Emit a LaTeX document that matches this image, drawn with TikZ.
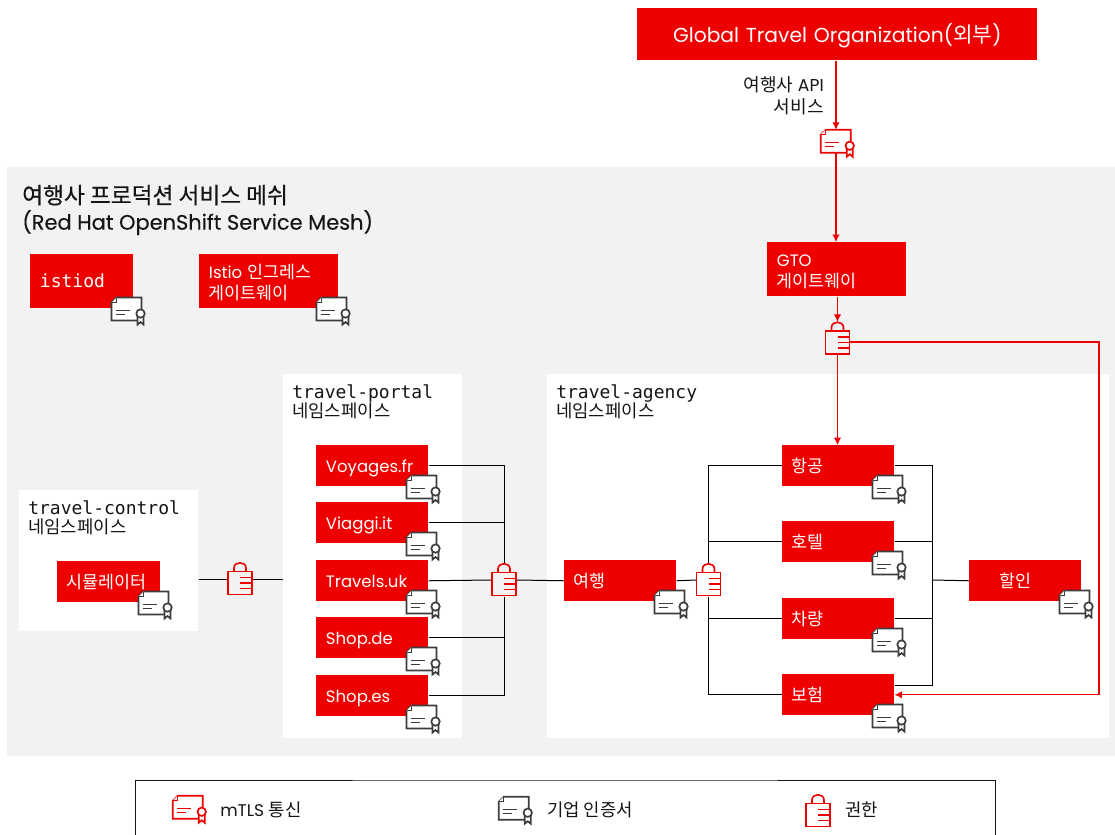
\documentclass[tikz,border=0pt]{standalone}
\usepackage{fontspec}
\setmainfont{Poppins}
\setmonofont[Scale=1.063]{DejaVu Sans Mono}
\newfontfamily\krfont[Scale=1.05]{Noto Sans CJK KR}
\newcommand{\kr}[1]{{\krfont #1}}
\usetikzlibrary{arrows.meta, positioning, calc}
\definecolor{red1}{RGB}{238, 0, 0}
\definecolor{panel1}{RGB}{242, 242, 242}
\definecolor{ink1}{RGB}{21, 21, 21}
\definecolor{icon1}{RGB}{60, 60, 60}
\tikzset{
  certicon/.pic={
    \path[pic actions, line width=1.25pt, fill=white] (5,0) -- (30,0) -- (30,23) -- (0,23) -- (0,5) -- cycle;
    \path[pic actions, line width=1pt, fill=white] (0,5) -- (5,5) -- (5,0);
    \path[pic actions, line width=1pt] (4,13) -- (18,13) (4,17) -- (13,17);
    \path[pic actions, line width=1.25pt, fill=white] (26,18) -- (26,27) -- (29,24.5) -- (32,27) -- (32,18);
    \path[pic actions, line width=1.25pt, fill=white] (29,16) circle[radius=4.2];
  },
  lockicon/.pic={
    \path[pic actions, line width=1.2pt] (-12,-7.5) rectangle (12,15.5);
    \path[pic actions, line width=1.2pt] (-6,-7.5) -- (-6,-11) .. controls (-6,-18) and (6,-18) .. (6,-11) -- (6,-7.5);
    \path[pic actions, line width=1.2pt] (0,-1.5) -- (12,-1.5) (0,4) -- (12,4) (0,9.5) -- (12,9.5);
  }
}
\begin{document}
\begin{tikzpicture}[
  x=0.75pt, y=-0.75pt,
  rbox/.style 2 args={fill=red1, text=white, anchor=north west, inner ysep=0pt, inner xsep=7.25pt, minimum height=#2*0.75pt, text width=#1*0.75pt-14.5pt, align=left, font=\fontsize{12.4}{15}\selectfont},
  oneline/.style={text height=10.5pt, text depth=1pt},
  twolines/.style={font=\fontsize{12.4}{15.5}\selectfont, text height=12.5pt},
  nsbox/.style 2 args={fill=white, anchor=north west, inner sep=0pt, minimum width=#1*0.75pt, minimum height=#2*0.75pt},
  nslabel/.style={anchor=north west, inner sep=0pt, align=left, text=ink1, font=\fontsize{12.7}{14.6}\selectfont},
  plain/.style={anchor=west, inner sep=0pt, align=left, text=ink1, font=\fontsize{12.7}{16}\selectfont},
  lockbox/.style={inner sep=0pt, minimum width=18pt, minimum height=24.75pt},
  certbox/.style={inner sep=0pt, minimum width=22.5pt, minimum height=17.25pt},
  wire/.style={draw=black, line width=0.75pt},
  redwire/.style={draw=red1, line width=0.8pt},
  redarrow/.style={redwire, -{Latex[length=5.5pt, width=5.5pt]}}
]
  \useasboundingbox (0,0) rectangle (1115,835);
  \fill[panel1] (7,167) rectangle (1115,756);

  % namespaces
  \node[nsbox={179}{141}] (controlNs) at (19,490) {};
  \node[nsbox={179}{364}] (portalNs) at (283,374) {};
  \node[nsbox={562}{364}] (agencyNs) at (547,374) {};
  \node[nslabel] (controlLabel) at (28,500) {\texttt{travel-control}\\\kr{네임스페이스}};
  \node[nslabel] (portalLabel) at (292,384) {\texttt{travel-portal}\\\kr{네임스페이스}};
  \node[nslabel] (agencyLabel) at (556,384) {\texttt{travel-agency}\\\kr{네임스페이스}};

  % top
  \node[rbox={400}{52}, font=\fontsize{15.2}{20}\selectfont, align=center, text height=13.5pt, text depth=1.5pt] (gto) at (637,8) {Global Travel Organization(\kr{외부})};
  \node[plain, anchor=east, align=right, font=\fontsize{12.9}{16.5}\selectfont] (apiLabel) at (824,95.5) {\kr{여행사} API\\\kr{서비스}};
  \node[certbox] (certTop) at (836,141.5) {};
  \node[plain, font=\fontsize{15.7}{19.5}\selectfont\addfontfeature{FakeBold=0.15}] (meshLabel) at (22,210) {{\fontsize{16.2}{19.5}\krfont\addfontfeature{FakeBold=0.4}여행사 프로덕션 서비스 메쉬}\\(Red Hat OpenShift Service Mesh)};

  % control plane
  \node[rbox={103}{54}, font=\ttfamily\fontsize{12.7}{15}\selectfont] (istiod) at (30,254) {istiod};
  \node[rbox={139}{54}, twolines] (istioGw) at (199,254) {Istio \kr{인그레스}\\\kr{게이트웨이}};
  \node[rbox={139}{54}, twolines] (gtoGw) at (767,242) {GTO\\\kr{게이트웨이}};
  \node[lockbox] (lockGto) at (837.5,338.5) {};

  % services
  \node[rbox={103}{41}, oneline] (simulator) at (57,561) {\kr{시뮬레이터}};
  \node[rbox={112}{41}, oneline] (voyages) at (316,445) {Voyages.fr};
  \node[rbox={112}{41}, oneline] (viaggi) at (316,502) {Viaggi.it};
  \node[rbox={112}{41}, oneline] (travels) at (316,560) {Travels.uk};
  \node[rbox={112}{41}, oneline] (shopDe) at (316,617) {Shop.de};
  \node[rbox={112}{41}, oneline] (shopEs) at (316,675) {Shop.es};
  \node[rbox={112}{41}, oneline] (travelSvc) at (564,560) {\kr{여행}};
  \node[rbox={112}{41}, oneline] (flights) at (782,445) {\kr{항공}};
  \node[rbox={112}{41}, oneline] (hotels) at (782,521) {\kr{호텔}};
  \node[rbox={112}{41}, oneline] (cars) at (782,598) {\kr{차량}};
  \node[rbox={112}{41}, oneline] (insurance) at (782,674) {\kr{보험}};
  \node[rbox={112}{41}, oneline] (discounts) at (969,560) {\hspace*{15.5pt}\kr{할인}};
  \node[lockbox] (lockControl) at (240,579) {};
  \node[lockbox] (lockPortal) at (504,580) {};
  \node[lockbox] (lockAgency) at (708.5,580) {};
  \coordinate (trunkRight) at (932,580);
  \coordinate (outerRight) at (1099,500);

  % connectors
  \draw[redarrow] (gto.south -| certTop) -- (certTop.north);
  \draw[redarrow] (certTop.south) -- (certTop.south |- gtoGw.north);
  \draw[redarrow] (gtoGw.south -| lockGto) -- (lockGto.north);
  \draw[redarrow] (lockGto.south) -- (lockGto.south |- flights.north);
  \draw[redarrow] ([yshift=-2.6pt]lockGto.east) -| (outerRight) |- (insurance.east);

  \draw[wire] (lockControl.west -| controlNs.east) -- (lockControl.west);
  \draw[wire] (lockControl.east) -- (lockControl.east -| portalNs.west);
  \draw[wire] (voyages.east) -| (lockPortal.north);
  \draw[wire] (viaggi.east) -- (viaggi.east -| lockPortal);
  \draw[wire] (travels.east) -- (lockPortal.west);
  \draw[wire] (shopDe.east) -- (shopDe.east -| lockPortal);
  \draw[wire] (shopEs.east) -| (lockPortal.south);
  \draw[wire] (lockPortal.east) -- (travelSvc.west);
  \draw[wire] (travelSvc.east) -- (lockAgency.west);
  \draw[wire] (flights.west) -| (lockAgency.north);
  \draw[wire] (hotels.west) -- (hotels.west -| lockAgency);
  \draw[wire] (cars.west) -- (cars.west -| lockAgency);
  \draw[wire] (insurance.west) -| (lockAgency.south);
  \draw[wire] (flights.east) -| (trunkRight);
  \draw[wire] (hotels.east) -- (hotels.east -| trunkRight);
  \draw[wire] (cars.east) -- (cars.east -| trunkRight);
  \draw[wire] ([yshift=7pt]insurance.east) -| (trunkRight);
  \draw[wire] (discounts.west) -- (trunkRight);

  % icons
  \foreach \svc in {istiod, istioGw, simulator, voyages, viaggi, travels, shopDe, shopEs, travelSvc, flights, hotels, cars, insurance, discounts}{
    \pic[draw=icon1, shift={(-22,-11)}] at (\svc.south east) {certicon};
  }
  \pic[draw=red1] at (certTop.north west) {certicon};
  \foreach \lk in {lockGto, lockControl, lockPortal, lockAgency}{
    \pic[draw=red1] at (\lk) {lockicon};
  }

  % legend
  \coordinate (legendA) at (135,835);
  \coordinate (legendB) at (995,835);
  \coordinate (legendTop) at (565,780);
  \draw[draw=ink1, line width=0.75pt] (legendA) |- (legendTop) -| (legendB);
  \node[certbox] (legendCertRed) at (188,807.5) {};
  \node[certbox] (legendCertDark) at (514,808.5) {};
  \node[lockbox] (legendLock) at (818,811) {};
  \pic[draw=red1] at (legendCertRed.north west) {certicon};
  \pic[draw=icon1] at (legendCertDark.north west) {certicon};
  \pic[draw=red1] at (legendLock) {lockicon};
  \node[plain] (legendMtls) at (220,810) {mTLS \kr{통신}};
  \node[plain] (legendCorp) at (547,810) {\kr{기업 인증서}};
  \node[plain] (legendAuth) at (845,810) {\kr{권한}};
\end{tikzpicture}
\end{document}
